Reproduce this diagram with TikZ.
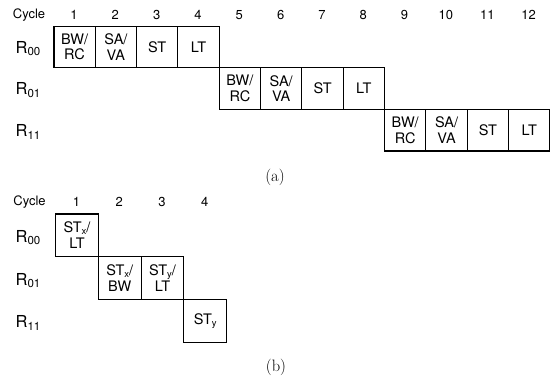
\documentclass[tikz,border=0pt]{standalone}
\usepackage{fontspec}
\newfontfamily\hv{TeX Gyre Heros}
\newcommand{\sbx}[1]{\raisebox{-2pt}{\fontsize{9.5}{9.5}\selectfont #1}}
\newcommand{\rsub}[1]{R\raisebox{-2.6pt}{\fontsize{11.5}{11.5}\selectfont #1}}
\begin{document}
\begin{tikzpicture}[x=1pt,y=-1pt,
  cella/.style={draw, line width=1.2pt, minimum width=41.33pt, minimum height=41.6pt,
    inner sep=0pt, anchor=north west, align=center,
    font=\hv\fontsize{14.5}{15.5}\selectfont},
  cellb/.style={cella, minimum width=42.75pt, minimum height=42.8pt},
  cyc/.style={inner sep=0pt, font=\hv\fontsize{13}{14}\selectfont},
  rowlab/.style={inner sep=0pt, anchor=base west, font=\hv\fontsize{16.5}{18}\selectfont},
  capt/.style={inner sep=0pt, font=\fontsize{16.5}{18}\selectfont}]
\path[use as bounding box] (0,0) rectangle (553,381);
% ---------- (a) ----------
\node[cyc] (cyca) at (29,15) {Cycle};
\foreach \i in {1,...,12}
  \node[cyc] (na\i) at ({53.3+41.33*(\i-0.5)},15) {\i};
\foreach \r/\lab in {0/00,1/01,2/11}
  \node[rowlab] (ra\r) at (15.4,{25.5+41.6*(\r+0.5)+7}) {\rsub{\lab}};
\foreach \r in {0,1,2}{
  \foreach \t [count=\c] in {{BW/\\RC},{SA/\\VA},ST,LT}{
    \pgfmathtruncatemacro\k{4*\r+\c}
    \node[cella] (a\k) at ({53.3+41.33*(\k-1)},{25.5+41.6*\r}) {\t};
  }
}
\node[capt] (capa) at (275,177.5) {(a)};
% ---------- (b) ----------
\node[cyc] (cycb) at (29.5,201.7) {Cycle};
\foreach \i in {1,...,4}
  \node[cyc] (nb\i) at ({55+42.75*(\i-0.5)},201.7) {\i};
\foreach \r/\lab in {0/00,1/01,2/11}
  \node[rowlab] (rb\r) at (15.4,{213.3+42.8*(\r+0.5)+7.5}) {\rsub{\lab}};
\node[cellb] (b1) at (55,213.3) {ST\sbx{x}/\\LT};
\node[cellb] (b2) at (97.75,256.1) {ST\sbx{x}/\\BW};
\node[cellb] (b3) at (140.5,256.1) {ST\sbx{y}/\\LT};
\node[cellb] (b4) at (183.25,298.9) {ST\sbx{y}};
\node[capt] (capb) at (276,367.5) {(b)};
\end{tikzpicture}
\end{document}
